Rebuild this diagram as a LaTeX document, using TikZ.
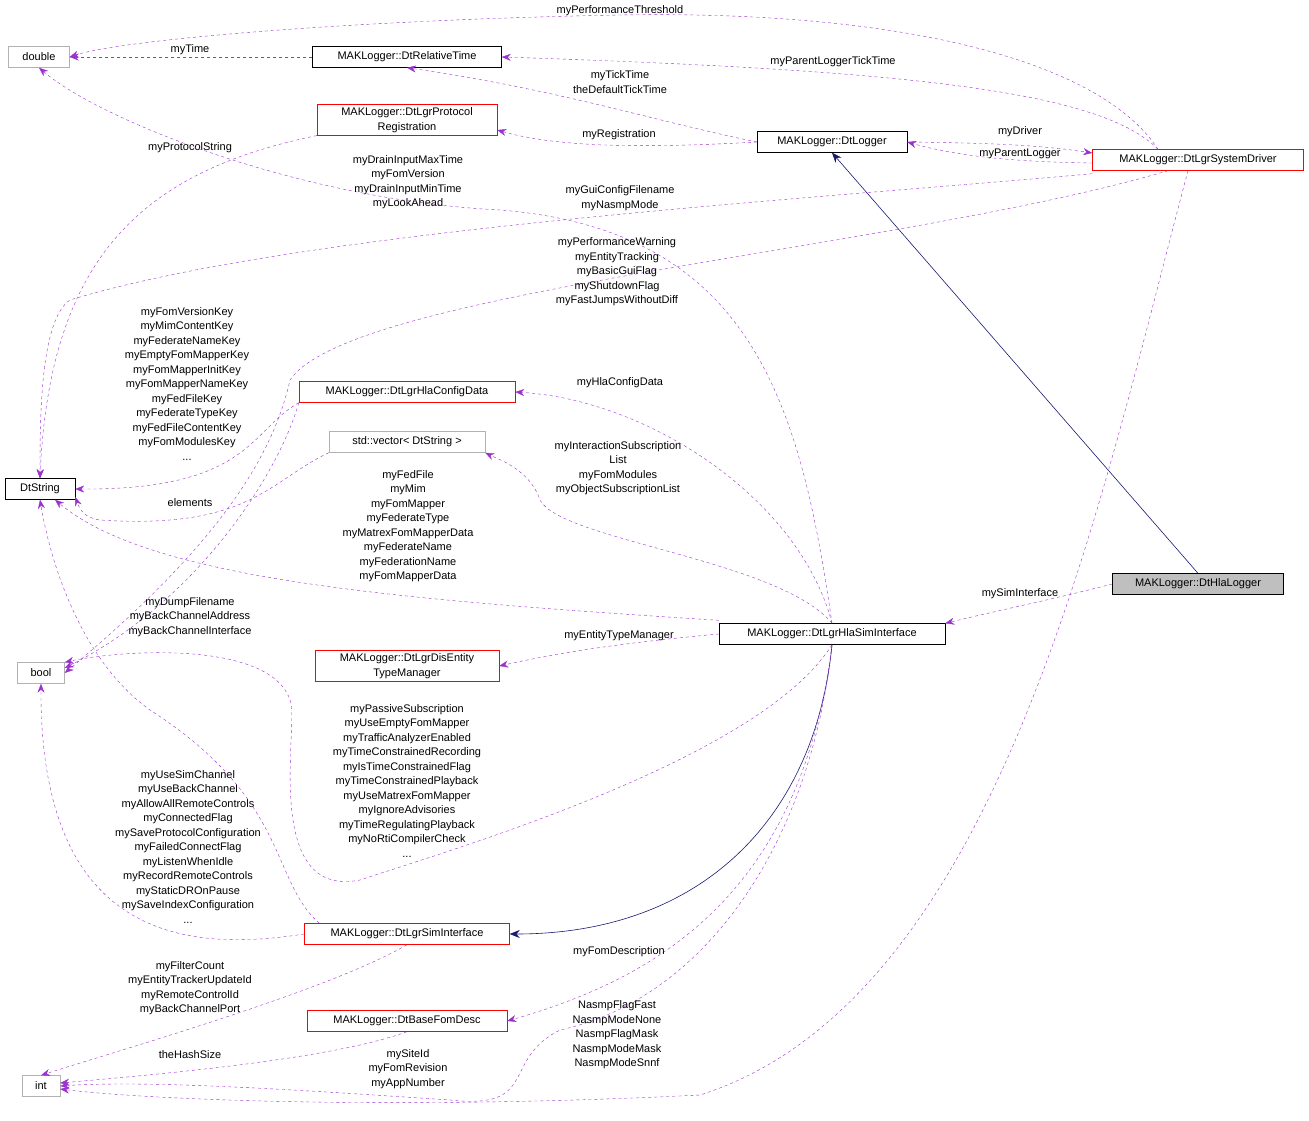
\documentclass[tikz,border=0pt]{standalone}
\usepackage{fontspec}
\setmainfont{Liberation Sans}
\usetikzlibrary{arrows.meta,calc}
\definecolor{dep}{HTML}{9A32CD}
\definecolor{inh}{HTML}{191970}
\begin{document}
\begin{tikzpicture}[x=1pt,y=-1pt,font=\fontsize{11}{14.5}\selectfont,
 box/.style={draw=black,fill=white,inner sep=3pt,minimum height=21,align=center},
 rbox/.style={box,draw=red},
 gbox/.style={box,draw=black!30},
 dp/.style={draw=dep,dashed,-{Stealth[length=9pt,width=7pt]}},
 ih/.style={draw=inh,semithick,-{Stealth[length=10pt,width=8pt]}},
 lb/.style={align=center,inner sep=0pt}]
\useasboundingbox (0,0) rectangle (1309,1121);
\node[gbox,minimum width=61] (dbl) at (39,57) {double};
\node[box,minimum width=189] (rt) at (407,57) {MAKLogger::DtRelativeTime};
\node[rbox,minimum width=180] (pr) at (407,120) {MAKLogger::DtLgrProtocol\\Registration};
\node[box,minimum width=150] (lg) at (832,142) {MAKLogger::DtLogger};
\node[rbox,minimum width=211] (sd) at (1198,160) {MAKLogger::DtLgrSystemDriver};
\node[box,minimum width=70] (str) at (40,489) {DtString};
\node[rbox,minimum width=216] (hc) at (407,392) {MAKLogger::DtLgrHlaConfigData};
\node[gbox,minimum width=156] (vec) at (407,442) {std::vector< DtString >};
\node[box,fill=black!25,minimum width=171] (hl) at (1198,584) {MAKLogger::DtHlaLogger};
\node[box,minimum width=226] (hs) at (832,634) {MAKLogger::DtLgrHlaSimInterface};
\node[gbox,minimum width=47] (bl) at (41,673) {bool};
\node[rbox,minimum width=184] (et) at (407,666) {MAKLogger::DtLgrDisEntity\\TypeManager};
\node[rbox,minimum width=205] (si) at (407,934) {MAKLogger::DtLgrSimInterface};
\node[rbox,minimum width=200] (fd) at (407,1021) {MAKLogger::DtBaseFomDesc};
\node[gbox,minimum width=38] (int) at (41,1086) {int};

% inheritance
\draw[ih] (hl.north) -- (lg.south);
\draw[ih] (hs.south) .. controls (815,820) and (700,934) .. (si.east);

% dependencies
\draw[dp] ($(sd.north)+(-40,0)$) .. controls (1100,60) and (900,10) .. (620,15) .. controls (350,20) and (120,40) .. (dbl.east);
\node[lb] (l1) at (620,11) {myPerformanceThreshold};
\draw[dp] (rt.west) -- (dbl.east);
\node[lb] (l2) at (190,50) {myTime};
\draw[dp] ($(sd.north)+(-40,0)$) .. controls (1100,90) and (900,70) .. (rt.east);
\node[lb] (l3) at (833,62) {myParentLoggerTickTime};
\draw[dp] (lg.west) .. controls (650,120) and (560,90) .. (rt.south);
\node[lb] (l4) at (620,82) {myTickTime\\theDefaultTickTime};
\draw[dp] (lg.west) .. controls (650,148) and (560,148) .. ($(pr.east)+(0,10)$);
\node[lb] (l5) at (619,135) {myRegistration};
\draw[dp] (lg.east) .. controls (990,143) and (1040,145) .. ($(sd.west)+(0,-7)$);
\node[lb] (l6) at (1020,132) {myDriver};
\draw[dp] ($(sd.west)+(0,3)$) .. controls (1020,162) and (960,157) .. (lg.east);
\node[lb] (l7) at (1020,154) {myParentLogger};
\draw[dp] (pr.south west) .. controls (150,170) and (50,250) .. (str.north);
\node[lb] (l8) at (190,148) {myProtocolString};
\draw[dp] ($(sd.south west)+(0,3)$) .. controls (800,200) and (300,230) .. (70,300) .. controls (40,320) and (40,420) .. (str.north);
\node[lb] (l9) at (620,198) {myGuiConfigFilename\\myNasmpMode};
\draw[dp] (hs.north) .. controls (800,400) and (750,230) .. (500,210) .. controls (300,200) and (100,120) .. (dbl.south);
\node[lb] (l10) at (408,182) {myDrainInputMaxTime\\myFomVersion\\myDrainInputMinTime\\myLookAhead};
\draw[dp] ($(sd.south)+(-30,0)$) .. controls (900,250) and (350,290) .. (290,380) .. controls (270,470) and (200,560) .. (bl.east);
\node[lb] (l11) at (617,272) {myPerformanceWarning\\myEntityTracking\\myBasicGuiFlag\\myShutdownFlag\\myFastJumpsWithoutDiff};
\draw[dp] (hc.south west) .. controls (250,430) and (250,490) .. (str.east);
\node[lb] (l12) at (187,384) {myFomVersionKey\\myMimContentKey\\myFederateNameKey\\myEmptyFomMapperKey\\myFomMapperInitKey\\myFomMapperNameKey\\myFedFileKey\\myFederateTypeKey\\myFedFileContentKey\\myFomModulesKey\\...};
\draw[dp] (vec.south west) .. controls (270,480) and (250,530) .. (100,520) .. controls (85,518) and (80,510) .. ($(str.east)+(0,8)$);
\node[lb] (l13) at (190,503) {elements};
\draw[dp] (hs.north) .. controls (800,500) and (650,400) .. (hc.east);
\node[lb] (l14) at (620,383) {myHlaConfigData};
\draw[dp] (hs.north) .. controls (780,560) and (560,540) .. (540,500) .. controls (530,470) and (500,460) .. (vec.south east);
\node[lb] (l15) at (618,468) {myInteractionSubscription\\List\\myFomModules\\myObjectSubscriptionList};
\draw[dp] ($(hs.north west)+(0,-3)$) .. controls (400,600) and (150,580) .. ($(str.south)+(15,0)$);
\node[lb] (l16) at (408,526) {myFedFile\\myMim\\myFomMapper\\myFederateType\\myMatrexFomMapperData\\myFederateName\\myFederationName\\myFomMapperData};
\draw[dp] (hl.west) .. controls (1050,600) and (1000,610) .. (hs.north east);
\node[lb] (l17) at (1020,594) {mySimInterface};
\draw[dp] (hs.west) .. controls (600,645) and (550,655) .. (et.east);
\node[lb] (l18) at (619,636) {myEntityTypeManager};
\draw[dp] (hc.south west) .. controls (280,470) and (200,600) .. ($(bl.east)+(0,-5)$);
\node[lb] (l19) at (190,617) {myDumpFilename\\myBackChannelAddress\\myBackChannelInterface};
\draw[dp] (hs.south) .. controls (760,760) and (450,850) .. (360,880) .. controls (260,900) and (300,720) .. (290,700) .. controls (270,640) and (120,650) .. (bl.north east);
\node[lb] (l20) at (407,781) {myPassiveSubscription\\myUseEmptyFomMapper\\myTrafficAnalyzerEnabled\\myTimeConstrainedRecording\\myIsTimeConstrainedFlag\\myTimeConstrainedPlayback\\myUseMatrexFomMapper\\myIgnoreAdvisories\\myTimeRegulatingPlayback\\myNoRtiCompilerCheck\\...};
\draw[dp] (si.west) .. controls (200,950) and (40,950) .. (bl.south);
\node[lb] (l21) at (188,847) {myUseSimChannel\\myUseBackChannel\\myAllowAllRemoteControls\\myConnectedFlag\\mySaveProtocolConfiguration\\myFailedConnectFlag\\myListenWhenIdle\\myRecordRemoteControls\\myStaticDROnPause\\mySaveIndexConfiguration\\...};
\draw[dp] ($(si.north west)+(15,0)$) .. controls (270,880) and (290,800) .. (150,710) .. controls (80,660) and (50,560) .. (str.south);
\draw[dp] (hs.south) .. controls (800,900) and (650,980) .. (fd.east);
\node[lb] (l22) at (619,952) {myFomDescription};
\draw[dp] (si.south) .. controls (330,990) and (120,1050) .. (int.north);
\node[lb] (l23) at (190,988) {myFilterCount\\myEntityTrackerUpdateId\\myRemoteControlId\\myBackChannelPort};
\draw[dp] (fd.south) .. controls (330,1060) and (150,1075) .. ($(int.east)+(0,-3)$);
\node[lb] (l24) at (190,1055) {theHashSize};
\draw[dp] (hs.south) .. controls (810,850) and (700,1000) .. (560,1030) .. controls (500,1060) and (540,1110) .. (450,1100) .. controls (300,1090) and (150,1080) .. (int.east);
\node[lb] (l25) at (408,1069) {mySiteId\\myFomRevision\\myAppNumber};
\draw[dp] ($(sd.south)+(-10,0)$) .. controls (1100,500) and (1000,1000) .. (700,1095) .. controls (400,1110) and (150,1100) .. ($(int.east)+(0,3)$);
\node[lb] (l26) at (617,1035) {NasmpFlagFast\\NasmpModeNone\\NasmpFlagMask\\NasmpModeMask\\NasmpModeSnnf};
\end{tikzpicture}
\end{document}
